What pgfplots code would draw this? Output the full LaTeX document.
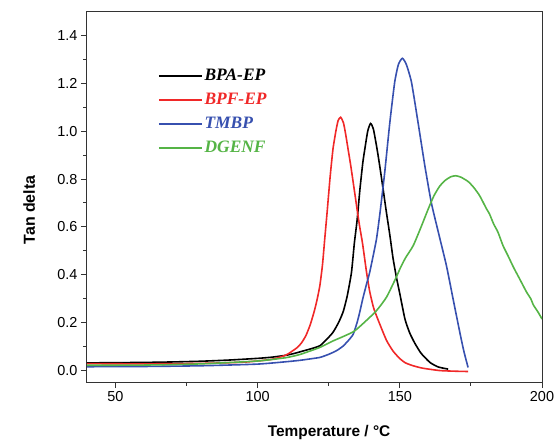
\documentclass[border=0pt]{standalone}
\usepackage{fontspec}
\setmainfont{Liberation Sans}
\newfontfamily\legfont{Liberation Serif}
\usepackage{pgfplots}
\pgfplotsset{compat=1.18}
\definecolor{cred}{RGB}{240,40,40}
\definecolor{cblue}{RGB}{55,80,175}
\definecolor{cgreen}{RGB}{85,180,70}
\begin{document}
\begin{tikzpicture}
\useasboundingbox (-87bp,-58bp) rectangle (468bp,382bp);
\begin{axis}[
 at={(0,0)}, anchor=south west,
 scale only axis, width=455bp, height=370bp,
 xmin=40, xmax=200, ymin=-0.05, ymax=1.5,
 xtick={50,100,150,200}, ytick={0,0.2,0.4,0.6,0.8,1.0,1.2,1.4},
 minor x tick num=1, minor y tick num=1,
 tick align=outside, xtick pos=bottom, ytick pos=left,
 major tick length=6bp, minor tick length=3.5bp,
 axis line style={line width=1bp, color=black!80},
 every tick/.style={line width=1bp, black!80},
 ticklabel style={font=\fontsize{14.5}{16}\selectfont},
 /pgf/number format/assume math mode=true,
 yticklabel style={/pgf/number format/.cd, fixed, fixed zerofill, precision=1},
 xlabel={Temperature / °C},
 ylabel={Tan delta},
 xlabel style={font=\bfseries\fontsize{15.5}{18}\selectfont, at={(axis description cs:0.532,-0.146)}, anchor=base},
 ylabel style={font=\bfseries\fontsize{16}{18}\selectfont, at={(axis description cs:-0.1143,0.465)}, anchor=base},
 legend style={at={(axis description cs:0.149,0.856)}, anchor=north west, draw=none, fill=none,
   font=\legfont\bfseries\itshape\fontsize{17.5}{20}\selectfont, row sep=7bp},
 legend cell align=left,
 legend image code/.code={\draw[#1] (0bp,0bp) -- (43bp,0bp);},
]
\addplot[black, line width=1.6bp, smooth, tension=0.35] coordinates {
(40,0.030)(50,0.031)(60,0.032)(70,0.034)(80,0.037)(90,0.042)(100,0.049)(105,0.054)
(110,0.062)(113,0.070)(116,0.080)(119,0.090)(121.9,0.102)(124,0.125)(126.5,0.158)
(128.5,0.200)(130.1,0.245)(131.5,0.310)(133.0,0.409)(134.0,0.530)(135.0,0.630)
(136.0,0.760)(137.0,0.870)(137.7,0.926)(138.7,1.000)(139.7,1.033)(140.7,1.010)
(142.0,0.926)(143.0,0.850)(144.1,0.760)(145.3,0.660)(146.5,0.565)(147.6,0.470)
(148.8,0.389)(150,0.320)(151.8,0.214)(153.5,0.155)(155.3,0.112)(157.5,0.070)
(160.6,0.032)(163.5,0.013)(167,0.004)
};
\addlegendentry{BPA-EP}
\addplot[cred, line width=1.6bp, smooth, tension=0.35] coordinates {
(40,0.027)(60,0.026)(80,0.028)(95,0.033)(105,0.045)(110,0.063)(112,0.078)(114,0.095)
(115.5,0.115)(117,0.145)(118.5,0.190)(120,0.250)(121,0.300)(121.9,0.355)(122.8,0.440)
(123.6,0.549)(124.5,0.670)(125.5,0.810)(126.5,0.926)(127.5,1.000)(128.3,1.045)
(129.2,1.059)(130.2,1.035)(131,0.985)(131.8,0.926)(132.7,0.860)(133.6,0.787)
(135.3,0.647)(135.9,0.600)(136.9,0.530)(138.3,0.410)(139.4,0.330)(140.8,0.260)
(142.7,0.200)(145.3,0.125)(147.6,0.080)(150,0.048)(152,0.030)(154.7,0.018)
(158,0.008)(164,-0.002)(170,-0.005)(174,-0.006)
};
\addlegendentry{\textcolor{cred}{BPF-EP}}
\addplot[cblue, line width=1.6bp, smooth, tension=0.35] coordinates {
(40,0.014)(60,0.015)(80,0.018)(100,0.025)(111,0.036)(115,0.041)(118,0.046)(121.9,0.053)
(125,0.066)(127.7,0.081)(130,0.100)(132,0.125)(133.6,0.150)(135,0.200)(135.9,0.242)
(137,0.300)(138.3,0.360)(139.4,0.409)(141,0.500)(141.8,0.549)(142.4,0.600)(143.2,0.675)
(144.7,0.829)(146.5,1.038)(148.2,1.206)(149.5,1.280)(150.9,1.306)(152.3,1.280)
(154.1,1.206)(156.4,1.038)(158.8,0.856)(161.1,0.700)(163.7,0.570)(166.4,0.437)
(168.7,0.300)(171.1,0.158)(172.5,0.080)(174,0.011)
};
\addlegendentry{\textcolor{cblue}{TMBP}}
\addplot[cgreen, line width=1.6bp, smooth, tension=0.35] coordinates {
(40,0.020)(60,0.021)(80,0.026)(100,0.038)(110,0.052)(114.8,0.065)(118,0.078)(121.9,0.095)
(126.5,0.122)(130,0.140)(134,0.163)(138,0.205)(141.8,0.249)(145.3,0.305)(148.8,0.390)
(150,0.423)(152,0.470)(154.7,0.521)(157.5,0.600)(160,0.675)(162,0.730)(164,0.770)
(166,0.795)(168,0.810)(169.7,0.814)(171.5,0.808)(174,0.790)(176,0.765)(178.1,0.730)
(180.5,0.675)(181.5,0.655)(183,0.612)(184.5,0.578)(186.3,0.521)(188,0.480)(190,0.430)
(192,0.385)(194.6,0.326)(196,0.300)(197,0.272)(198.5,0.245)(200,0.214)
};
\addlegendentry{\textcolor{cgreen}{DGENF}}
\end{axis}
\end{tikzpicture}
\end{document}
